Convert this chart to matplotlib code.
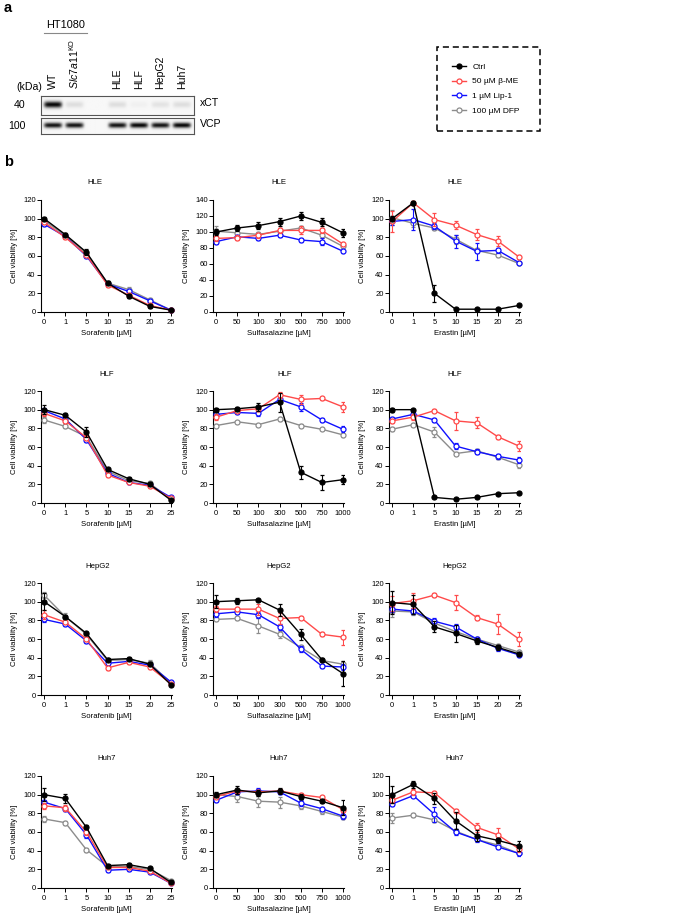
import numpy as np
import matplotlib
matplotlib.use("Agg")
import matplotlib.pyplot as plt
from matplotlib.lines import Line2D
from matplotlib.patches import Rectangle

plt.rcParams["font.family"] = ["Liberation Sans", "DejaVu Sans"]
plt.rcParams["mathtext.fontset"] = "custom"
plt.rcParams["mathtext.rm"] = "Liberation Sans"
plt.rcParams["mathtext.it"] = "Liberation Sans:italic"

# ---- panel a: western blot ----
lanes = ["WT", "$\\mathit{Slc7a11}^{\\mathrm{KO}}$", "", "HLE", "HLF", "HepG2", "Huh7"]
xct_band = [0.95, 0.10, 0.0, 0.10, 0.03, 0.08, 0.10]
vcp_band = [0.9, 0.9, 0.0, 0.9, 0.95, 0.9, 0.95]

# ---- panel b: viability data (rows: Ctrl, b-ME, Lip-1, DFP) ----
treatments = ["Ctrl", "50 µM β-ME", "1 µM Lip-1", "100 µM DFP"]
sorafenib_doses = ["0", "1", "5", "10", "15", "20", "25"]
ssz_doses = ["0", "50", "100", "300", "500", "750", "1000"]
erastin_doses = ["0", "1", "5", "10", "15", "20", "25"]

hle_sor = [[100, 83, 64, 31, 17, 6, 2], [96, 80, 61, 29, 18, 7, 2],
           [94, 81, 60, 30, 22, 12, 2], [98, 82, 63, 31, 24, 13, 2]]
hle_sor_err = [[2, 2, 3, 2, 2, 2, 1], [2, 2, 2, 2, 2, 1, 1],
               [2, 2, 2, 2, 2, 2, 1], [2, 3, 3, 2, 3, 2, 1]]
hle_ssz = [[100, 105, 108, 113, 120, 112, 99], [92, 93, 96, 102, 102, 102, 85],
           [88, 94, 92, 96, 90, 88, 76], [101, 99, 97, 101, 105, 96, 82]]
hle_ssz_err = [[4, 4, 4, 5, 5, 5, 5], [3, 3, 3, 3, 5, 3, 2],
               [3, 2, 2, 2, 3, 4, 2], [6, 2, 3, 3, 3, 3, 2]]
hle_era = [[100, 117, 20, 3, 3, 3, 7], [97, 117, 99, 93, 83, 76, 59],
           [97, 99, 92, 76, 65, 66, 53], [101, 95, 90, 78, 66, 61, 52]]
hle_era_err = [[3, 2, 9, 1, 1, 1, 1], [11, 2, 7, 4, 6, 5, 2],
               [4, 11, 3, 7, 9, 3, 2], [8, 4, 2, 5, 3, 2, 2]]

hlf_sor = [[100, 94, 76, 36, 26, 20, 3], [96, 88, 70, 30, 22, 18, 5],
           [99, 90, 68, 32, 22, 19, 6], [89, 82, 71, 34, 24, 21, 4]]
hlf_sor_err = [[5, 2, 5, 2, 2, 2, 1], [3, 2, 3, 2, 2, 2, 1],
               [3, 3, 3, 2, 2, 2, 1], [3, 2, 3, 2, 2, 2, 1]]
hlf_ssz = [[100, 101, 103, 108, 33, 22, 25], [92, 99, 101, 116, 111, 112, 103],
           [95, 97, 96, 111, 103, 89, 79], [83, 87, 84, 90, 83, 79, 73]]
hlf_ssz_err = [[2, 2, 4, 10, 7, 8, 5], [3, 2, 2, 3, 5, 2, 5],
               [2, 2, 3, 3, 4, 2, 3], [2, 1, 1, 2, 2, 1, 2]]
hlf_era = [[100, 100, 6, 4, 6, 10, 11], [88, 92, 99, 88, 86, 71, 61],
           [90, 95, 89, 61, 55, 50, 46], [79, 84, 76, 53, 56, 49, 41]]
hlf_era_err = [[2, 1, 1, 1, 1, 1, 1], [2, 3, 2, 10, 6, 2, 5],
               [2, 2, 2, 3, 3, 3, 3], [2, 2, 5, 2, 2, 2, 3]]

hepg2_sor = [[100, 84, 66, 38, 39, 33, 11], [86, 78, 60, 29, 35, 30, 12],
             [81, 76, 58, 34, 36, 32, 14], [107, 84, 65, 37, 38, 34, 13]]
hepg2_sor_err = [[9, 2, 2, 2, 2, 2, 1], [5, 2, 2, 2, 2, 2, 1],
                 [3, 2, 2, 2, 2, 2, 1], [3, 4, 2, 2, 2, 3, 1]]
hepg2_ssz = [[100, 101, 102, 91, 65, 38, 23], [92, 92, 92, 82, 83, 65, 62],
             [87, 89, 86, 73, 49, 31, 30], [81, 82, 74, 65, 51, 37, 33]]
hepg2_ssz_err = [[7, 3, 1, 6, 6, 2, 13], [3, 2, 6, 6, 2, 2, 8],
                 [3, 2, 3, 3, 3, 2, 3], [2, 2, 8, 4, 3, 2, 3]]
hepg2_era = [[99, 97, 73, 66, 58, 51, 44], [98, 101, 107, 99, 83, 76, 60],
             [92, 90, 79, 73, 60, 50, 43], [90, 89, 77, 68, 60, 53, 46]]
hepg2_era_err = [[12, 10, 6, 9, 3, 3, 2], [8, 8, 2, 8, 3, 11, 8],
                 [3, 3, 4, 3, 2, 3, 2], [6, 3, 3, 3, 2, 2, 2]]

huh7_sor = [[100, 96, 65, 24, 25, 21, 6], [88, 86, 60, 22, 22, 18, 5],
            [92, 85, 57, 19, 20, 17, 5], [74, 70, 41, 23, 23, 20, 8]]
huh7_sor_err = [[7, 5, 2, 2, 2, 2, 1], [3, 3, 3, 2, 2, 2, 1],
                [2, 2, 3, 2, 2, 2, 1], [3, 2, 2, 2, 2, 2, 1]]
huh7_ssz = [[100, 105, 102, 104, 98, 93, 86], [98, 104, 103, 104, 100, 97, 84],
            [94, 103, 104, 103, 91, 85, 77], [100, 98, 93, 92, 88, 82, 76]]
huh7_ssz_err = [[3, 4, 3, 3, 3, 2, 8], [2, 2, 2, 2, 2, 2, 3],
                [2, 2, 3, 2, 3, 2, 3], [3, 6, 6, 6, 3, 3, 2]]
huh7_era = [[100, 111, 96, 72, 56, 51, 45], [94, 103, 102, 83, 65, 57, 42],
            [90, 99, 79, 60, 52, 44, 37], [75, 78, 73, 61, 52, 46, 37]]
huh7_era_err = [[9, 4, 6, 9, 6, 3, 5], [3, 3, 2, 2, 5, 7, 3],
                [2, 2, 8, 3, 3, 2, 3], [5, 2, 2, 2, 2, 2, 2]]

cell_lines = ["HLE", "HLF", "HepG2", "Huh7"]
panels = [
    [(hle_sor, hle_sor_err), (hle_ssz, hle_ssz_err), (hle_era, hle_era_err)],
    [(hlf_sor, hlf_sor_err), (hlf_ssz, hlf_ssz_err), (hlf_era, hlf_era_err)],
    [(hepg2_sor, hepg2_sor_err), (hepg2_ssz, hepg2_ssz_err), (hepg2_era, hepg2_era_err)],
    [(huh7_sor, huh7_sor_err), (huh7_ssz, huh7_ssz_err), (huh7_era, huh7_era_err)],
]
drugs = [("Sorafenib [µM]", sorafenib_doses), ("Sulfasalazine [µM]", ssz_doses),
         ("Erastin [µM]", erastin_doses)]

colors = ["black", "#ff4a4a", "#1010ff", "#8c8c8c"]

W, H = 695, 918
fig = plt.figure(figsize=(W / 100, H / 100), dpi=100)


def box(x0, y0, x1, y1):
    # pixel box (top-left origin) -> figure rect
    return [x0 / W, 1 - y1 / H, (x1 - x0) / W, (y1 - y0) / H]


def fx(px):
    return px / W


def fy(py):
    return 1 - py / H


# ---------------- panel a ----------------
fig.text(fx(4), fy(8), "a", fontsize=10.5, fontweight="bold", va="center")
fig.text(fx(66), fy(25), "HT1080", fontsize=7.8, ha="center", va="center")
fig.add_artist(Line2D([fx(44), fx(87)], [fy(33), fy(33)], color="#888888", lw=0.8))

blot_x0, blot_x1 = 41, 194
lane_w = (blot_x1 - blot_x0) / 7.1
for i, lab in enumerate(lanes):
    if lab:
        cx = blot_x0 + (i + 0.55) * lane_w
        fig.text(fx(cx), fy(89), lab, rotation=90, fontsize=7.6,
                 ha="center", va="bottom")
fig.text(fx(29), fy(87), "(kDa)", fontsize=7.6, ha="center", va="center")


def draw_blot(rect, bands, label, mw):
    ax = fig.add_axes(rect)
    xs = np.linspace(-0.55, 6.55, 300)
    ys = np.linspace(0, 1, 40)
    X, Y = np.meshgrid(xs, ys)
    img = np.full_like(X, 0.03)
    for i, inten in enumerate(bands):
        img += inten * np.exp(-((X - i) / 0.42) ** 6) * np.exp(-((Y - 0.55) / 0.17) ** 2)
    ax.imshow(img, cmap="gray_r", vmin=0, vmax=1, aspect="auto",
              extent=(-0.55, 6.55, 0, 1), origin="lower", interpolation="bilinear")
    ax.set_xticks([])
    ax.set_yticks([])
    for s in ax.spines.values():
        s.set_color("#555555")
        s.set_linewidth(0.8)
    ax.text(-0.1, 0.5, mw, transform=ax.transAxes, fontsize=7.6,
            ha="right", va="center")
    ax.text(1.04, 0.65, label, transform=ax.transAxes, fontsize=7.6,
            ha="left", va="center")


draw_blot(box(blot_x0, 96, blot_x1, 115), xct_band, "xCT", "40")
draw_blot(box(blot_x0, 118, blot_x1, 134), vcp_band, "VCP", "100")

# legend
fig.add_artist(Rectangle((fx(437), fy(131)), fx(540) - fx(437), fy(47) - fy(131),
                         transform=fig.transFigure, fill=False, ls=(0, (4, 2.5)),
                         lw=1.1, ec="black"))
handles = []
for k, t in enumerate(treatments):
    handles.append(Line2D([0], [0], color=colors[k], marker="o", ms=3.6,
                          mfc=colors[k] if k == 0 else "white", mew=0.9, lw=1.0))
fig.legend(handles, treatments, loc="center left", bbox_to_anchor=(fx(448), fy(89)),
           frameon=False, fontsize=6.0, handlelength=1.7, handletextpad=0.7,
           labelspacing=0.85, borderpad=0)

# ---------------- panel b ----------------
fig.text(fx(4), fy(162), "b", fontsize=10.5, fontweight="bold", va="center")

col_left = [41, 213, 389]
row_top = [200, 391, 583, 776]
ax_w, ax_h = 131, 112
title_shift = {(0, 0): -12, (2, 0): -9, (1, 1): 6}

for r, cl in enumerate(cell_lines):
    for c in range(3):
        ax = fig.add_axes(box(col_left[c], row_top[r], col_left[c] + ax_w, row_top[r] + ax_h))
        vals, errs = panels[r][c]
        xlabel, doses = drugs[c]
        x = np.arange(len(doses))
        ymax = 140 if (r == 0 and c == 1) else 120
        for k in [3, 2, 1, 0]:
            lines = ax.errorbar(x, vals[k], yerr=errs[k], color=colors[k], marker="o",
                                ms=3.6, mfc=colors[k] if k == 0 else "white", mew=0.9,
                                lw=1.0, elinewidth=0.8, capsize=1.7, capthick=0.8,
                                zorder=3 + (3 - k))
            lines[0].set_clip_on(False)
        ax.set_xlim(-0.15, 6.05)
        ax.set_ylim(0, ymax)
        ax.set_xticks(x)
        ax.set_xticklabels(doses)
        ax.set_yticks(np.arange(0, ymax + 1, 20))
        for s in ["top", "right"]:
            ax.spines[s].set_visible(False)
        for s in ["left", "bottom"]:
            ax.spines[s].set_linewidth(0.8)
        ax.tick_params(axis="both", direction="out", length=2.8, width=0.7,
                       labelsize=5.5, colors="black")
        ax.tick_params(axis="x", pad=2.2)
        ax.tick_params(axis="y", pad=1)
        ax.set_xlabel(xlabel, fontsize=5.6, labelpad=3.0)
        ax.set_ylabel("Cell viability [%]", fontsize=5.6, labelpad=3.5)
        dx = title_shift.get((r, c), 0)
        ax.text(0.5 + dx / ax_w, 1 + 17 / ax_h, cl, transform=ax.transAxes,
                fontsize=5.6, ha="center", va="center")

fig.savefig("out.png", dpi=100)
